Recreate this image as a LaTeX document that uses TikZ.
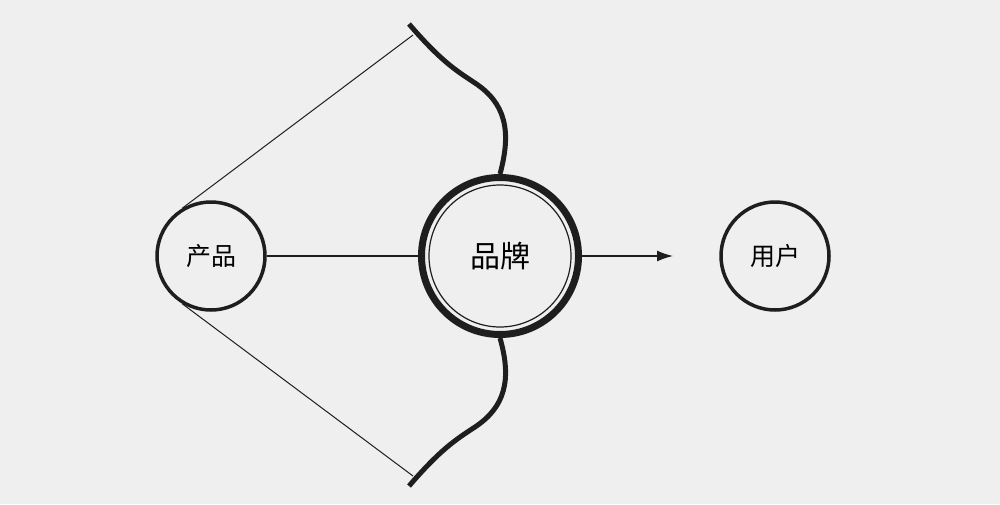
\documentclass[tikz,border=0pt]{standalone}
\usepackage{fontspec}
\newfontfamily\cjk{Noto Sans CJK SC}
\usetikzlibrary{arrows.meta}
\definecolor{bg}{HTML}{EFEFEF}
\definecolor{ink}{HTML}{1E1E1E}

\begin{document}
\begin{tikzpicture} [x=.5pt, y=-.5pt, ring/.style={circle, draw=ink, line width=1.75pt, minimum size=54pt, inner sep=0, font=\cjk\fontsize{12.5}{13}\selectfont}]
\fill[bg] (0,0) rectangle (1000,504);
\useasboundingbox (0,0) rectangle (1000,504);
\node[ring] (prod) at (211,256) {产品};
\node[ring, line width=3.5pt, minimum size=78.5pt, font=\cjk\fontsize{15}{16}\selectfont] (brand) at (500,256) {品牌};
\node[ring] (user) at (775,256) {用户};
\draw[ink, line width=.6pt] (brand.center) circle (35.5pt);
\coordinate (bowtop) at (413,35);
\coordinate (bowbot) at (413,476);
\coordinate (tip) at (673,256);
% bow
\draw[ink, line width=2.5pt] (409,24) .. controls (440,60) and (455,70) .. (475,83) .. controls (505,103) and (512,130) .. (brand.north);
\draw[ink, line width=2.5pt] (409,486) .. controls (440,450) and (455,440) .. (475,427) .. controls (505,407) and (512,380) .. (brand.south);
% string
\draw[ink, line width=.5pt] (prod.121) -- (bowtop);
\draw[ink, line width=.5pt] (prod.-121) -- (bowbot);
\draw[ink, line width=.75pt] (prod) -- (brand);
\draw[ink, line width=.75pt, -{Latex[length=8pt, width=5.5pt]}] (brand) -- (tip);
\end{tikzpicture}
\end{document}
